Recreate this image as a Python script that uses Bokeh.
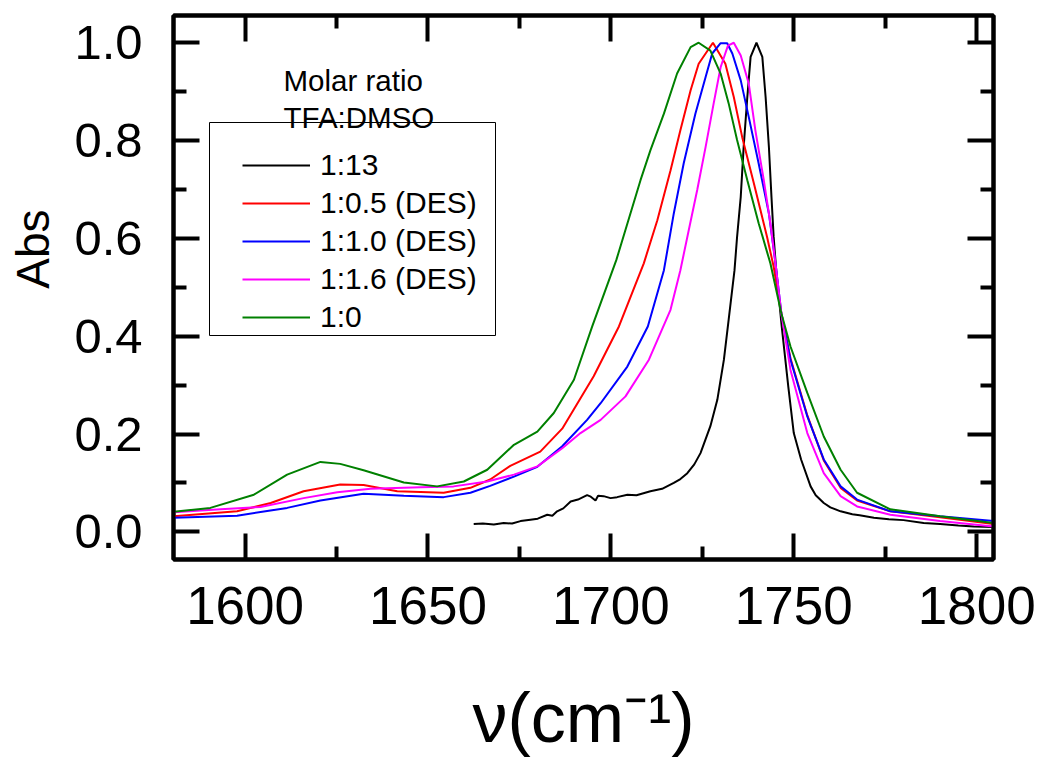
from bokeh.plotting import figure
from bokeh.models import (Range1d, LinearAxis, FixedTicker, PrintfTickFormatter,
                          CustomJSTickFormatter, Legend, LegendItem, Label, BoxAnnotation)
from bokeh.embed import file_html
from bokeh.resources import INLINE

FONT = "Liberation Sans"

# ---------------- data ----------------
labels = ["1:13", "1:0.5 (DES)", "1:1.0 (DES)", "1:1.6 (DES)", "1:0"]
colors = ["#000000", "#FF0000", "#0000FF", "#FF00FF", "#008000"]

nu_13 = [1662.5, 1665.0, 1668.0, 1670.7, 1673.0, 1675.3, 1678.0, 1680.0, 1682.6, 1684.0,
         1685.3, 1687.0, 1689.0, 1691.0, 1693.5, 1694.5, 1695.8, 1696.5, 1698.0, 1699.9,
         1701.7, 1704.5, 1707.0, 1710.8, 1714.0, 1717.2, 1719.0, 1720.9, 1722.8, 1724.5,
         1727.2, 1729.1, 1730.9, 1732.2, 1733.8, 1734.5, 1735.5, 1736.3, 1737.3, 1738.2,
         1739.8, 1741.4, 1742.3, 1743.2, 1743.9, 1744.5, 1745.2, 1746.7, 1748.5, 1750.0,
         1752.0, 1754.6, 1756.0, 1758.2, 1760.0, 1762.8, 1766.0, 1768.0, 1771.9, 1776.0,
         1780.0, 1785.5, 1790.0, 1795.0, 1799.2, 1804.6]
abs_13 = [0.016, 0.017, 0.015, 0.018, 0.017, 0.022, 0.025, 0.027, 0.035, 0.033,
          0.042, 0.048, 0.062, 0.066, 0.075, 0.072, 0.064, 0.074, 0.073, 0.069,
          0.071, 0.076, 0.075, 0.083, 0.088, 0.100, 0.108, 0.120, 0.138, 0.161,
          0.216, 0.270, 0.352, 0.434, 0.535, 0.603, 0.685, 0.787, 0.889, 0.971,
          1.000, 0.971, 0.889, 0.787, 0.685, 0.603, 0.535, 0.420, 0.297, 0.202,
          0.148, 0.093, 0.075, 0.059, 0.050, 0.042, 0.036, 0.034, 0.029, 0.026,
          0.024, 0.018, 0.016, 0.013, 0.011, 0.010]

nu_05 = [1580.5, 1597.8, 1607.0, 1616.0, 1626.0, 1632.4, 1641.6, 1654.3, 1661.6, 1667.0,
         1672.5, 1680.7, 1686.7, 1695.3, 1702.2, 1709.0, 1712.7, 1716.3, 1719.0, 1721.8,
         1724.0, 1727.9, 1731.3, 1733.6, 1735.9, 1739.1, 1742.7, 1744.5, 1746.6, 1749.1,
         1753.7, 1758.2, 1762.8, 1767.3, 1776.4, 1790.0, 1804.6]
abs_05 = [0.032, 0.042, 0.059, 0.083, 0.097, 0.096, 0.083, 0.080, 0.090, 0.107,
          0.135, 0.164, 0.211, 0.318, 0.420, 0.549, 0.637, 0.739, 0.821, 0.903,
          0.957, 1.000, 0.957, 0.889, 0.807, 0.712, 0.603, 0.542, 0.447, 0.355,
          0.238, 0.146, 0.090, 0.064, 0.042, 0.030, 0.016]

nu_10 = [1580.5, 1597.8, 1611.5, 1620.6, 1632.4, 1643.4, 1654.3, 1661.6, 1667.0, 1673.5,
         1679.9, 1686.7, 1693.5, 1697.2, 1704.5, 1710.1, 1714.5, 1717.2, 1719.9, 1723.1,
         1725.9, 1727.7, 1730.0, 1731.8, 1733.2, 1735.5, 1737.7, 1740.4, 1743.2, 1745.0,
         1746.6, 1749.1, 1753.7, 1758.2, 1762.8, 1767.3, 1776.4, 1790.0, 1804.6]
abs_10 = [0.029, 0.033, 0.049, 0.064, 0.078, 0.074, 0.071, 0.080, 0.094, 0.113,
          0.133, 0.175, 0.229, 0.263, 0.338, 0.420, 0.535, 0.651, 0.753, 0.855,
          0.930, 0.978, 0.999, 0.999, 0.978, 0.923, 0.848, 0.753, 0.651, 0.549,
          0.447, 0.352, 0.236, 0.148, 0.093, 0.066, 0.042, 0.032, 0.022]

nu_16 = [1580.5, 1593.3, 1604.2, 1616.0, 1625.2, 1634.3, 1648.0, 1657.0, 1666.2, 1673.5,
         1679.9, 1686.7, 1691.7, 1697.2, 1704.0, 1710.4, 1716.3, 1719.0, 1721.3, 1723.6,
         1725.9, 1728.1, 1730.0, 1732.0, 1733.6, 1735.5, 1737.7, 1739.5, 1741.8, 1743.6,
         1745.0, 1746.6, 1749.1, 1753.7, 1758.2, 1762.8, 1767.3, 1776.4, 1790.0, 1804.6]
abs_16 = [0.040, 0.046, 0.051, 0.069, 0.081, 0.088, 0.091, 0.093, 0.103, 0.117,
          0.134, 0.171, 0.202, 0.229, 0.277, 0.352, 0.454, 0.535, 0.617, 0.699,
          0.787, 0.876, 0.950, 0.994, 1.000, 0.974, 0.916, 0.821, 0.719, 0.631,
          0.549, 0.447, 0.331, 0.202, 0.120, 0.073, 0.052, 0.035, 0.022, 0.011]

nu_0 = [1580.5, 1590.5, 1602.4, 1611.5, 1620.6, 1626.0, 1632.4, 1643.4, 1652.5, 1659.8,
        1666.2, 1673.5, 1679.9, 1684.4, 1689.9, 1694.9, 1701.5, 1708.1, 1710.8, 1714.5,
        1718.1, 1721.8, 1724.0, 1727.2, 1730.0, 1732.2, 1734.5, 1737.3, 1740.4, 1743.6,
        1746.6, 1749.1, 1753.7, 1758.2, 1762.8, 1767.3, 1776.4, 1790.0, 1804.6]
abs_0 = [0.041, 0.049, 0.076, 0.117, 0.143, 0.139, 0.126, 0.101, 0.093, 0.103,
         0.127, 0.178, 0.205, 0.243, 0.311, 0.420, 0.556, 0.719, 0.780, 0.855,
         0.937, 0.991, 1.000, 0.984, 0.937, 0.876, 0.801, 0.719, 0.631, 0.549,
         0.447, 0.379, 0.284, 0.195, 0.127, 0.080, 0.046, 0.032, 0.018]

x_ticks = [1600, 1650, 1700, 1750, 1800]
x_minor = [1625, 1675, 1725, 1775]
y_ticks = [0.0, 0.2, 0.4, 0.6, 0.8, 1.0]
y_minor = [0.1, 0.3, 0.5, 0.7, 0.9]

series_x = [nu_13, nu_05, nu_10, nu_16, nu_0]
series_y = [abs_13, abs_05, abs_10, abs_16, abs_0]

# ---------------- figure ----------------
p = figure(width=1040, height=759, output_backend="svg", toolbar_location=None,
           x_range=Range1d(1580.43, 1804.6), y_range=Range1d(-0.0565, 1.0557),
           min_border_left=173, min_border_right=47, min_border_top=15, min_border_bottom=199,
           background_fill_color="white", border_fill_color="white")
p.grid.visible = False
p.outline_line_color = "black"
p.outline_line_width = 4

def style_axis(ax, show_labels, size="48px", standoff=26):
    ax.axis_line_width = 4
    ax.axis_line_color = "black"
    ax.major_tick_in = 26
    ax.major_tick_out = 0
    ax.minor_tick_in = 13
    ax.minor_tick_out = 0
    ax.major_tick_line_width = 4
    ax.minor_tick_line_width = 4
    ax.major_tick_line_color = "black"
    ax.minor_tick_line_color = "black"
    ax.major_label_text_font = FONT
    ax.major_label_text_color = "black"
    if show_labels:
        ax.major_label_text_font_size = size
        ax.major_label_standoff = standoff
    else:
        ax.major_label_text_font_size = "0px"
        ax.major_label_standoff = 0
        ax.formatter = CustomJSTickFormatter(code="return ''")

xb = p.xaxis[0]
xb.ticker = FixedTicker(ticks=x_ticks, minor_ticks=x_minor)
style_axis(xb, True, "53px", 27)
xb.axis_label = "\u03bd(cm\u207b\u00b9)"
xb.axis_label_text_font = FONT
xb.axis_label_text_font_size = "70px"
xb.axis_label_text_font_style = "normal"
xb.axis_label_text_color = "black"
xb.axis_label_standoff = 52

yl = p.yaxis[0]
yl.ticker = FixedTicker(ticks=y_ticks, minor_ticks=y_minor)
yl.formatter = PrintfTickFormatter(format="%.1f")
style_axis(yl, True, "49px", 31)
yl.axis_label = "\u00a0" * 6 + "Abs"
yl.axis_label_text_font = FONT
yl.axis_label_text_font_size = "46px"
yl.axis_label_text_font_style = "normal"
yl.axis_label_text_color = "black"
yl.axis_label_standoff = 12

xt = LinearAxis(ticker=FixedTicker(ticks=x_ticks, minor_ticks=x_minor))
style_axis(xt, False)
p.add_layout(xt, "above")
yr = LinearAxis(ticker=FixedTicker(ticks=y_ticks, minor_ticks=y_minor))
style_axis(yr, False)
p.add_layout(yr, "right")

items = []
for xs, ys, c, lab in zip(series_x, series_y, colors, labels):
    r = p.line(xs, ys, line_color=c, line_width=2)
    items.append(LegendItem(label=lab, renderers=[r]))

legend = Legend(items=items, location=(69, 223), padding=0, margin=0,
                glyph_width=68, glyph_height=38, label_height=38, spacing=0,
                label_standoff=10, label_text_font=FONT, label_text_font_size="30px",
                label_text_color="black", border_line_alpha=0, background_fill_alpha=0)
p.add_layout(legend, "center")

box = BoxAnnotation(left=36, right=322, top=437, bottom=224,
                    left_units="screen", right_units="screen",
                    top_units="screen", bottom_units="screen",
                    fill_alpha=0, line_color="black", line_alpha=1, line_width=1)
p.add_layout(box)

def add_label(text, x, y, size, align="left", baseline="alphabetic", angle=0):
    p.add_layout(Label(x=x, y=y, x_units="screen", y_units="screen", text=text,
                       text_font=FONT, text_font_size=size, text_color="black",
                       text_align=align, text_baseline=baseline, angle=angle))

# annotation title above the legend
add_label("Molar ratio", 110, 560 - 81, "29.5px")
add_label("TFA:DMSO", 110, 560 - 118, "29.5px")

open("out.html", "w").write(file_html(p, INLINE))
